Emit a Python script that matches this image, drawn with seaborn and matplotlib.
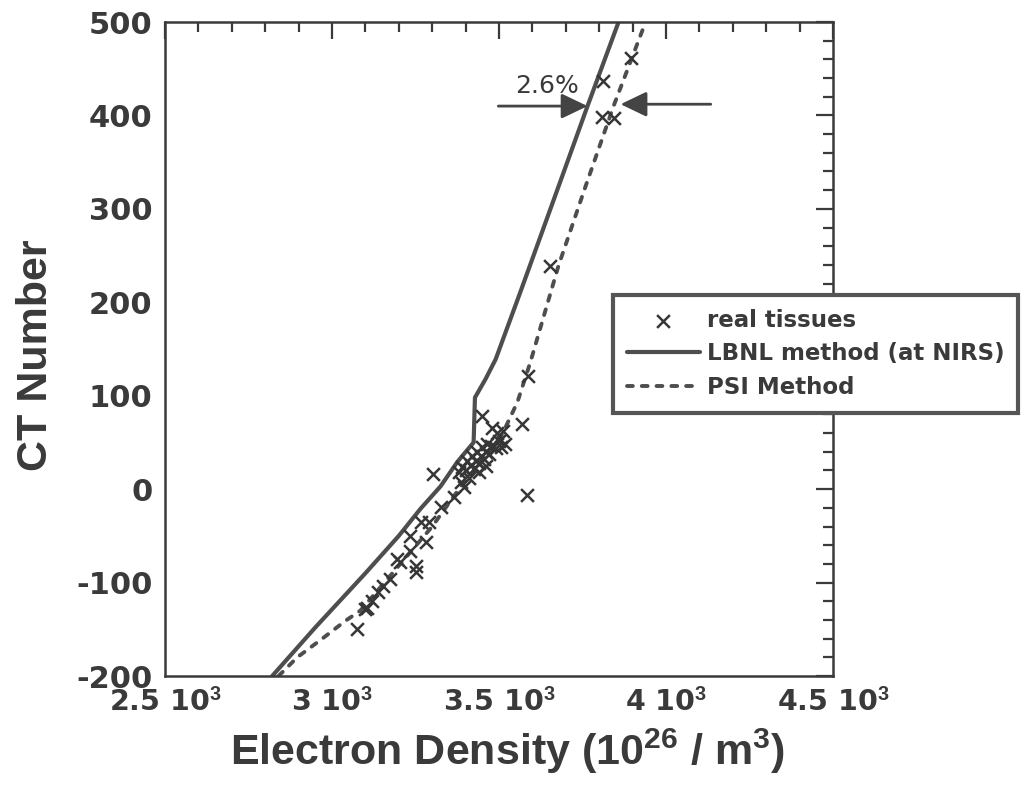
import matplotlib
matplotlib.use("Agg")
import matplotlib.pyplot as plt
from matplotlib import font_manager as fm
import seaborn as sns
import pandas as pd

# ---------------- data ----------------
tissue_density = [3894, 3810, 3808, 3843, 3654, 3588, 3570, 3585, 3450, 3302,
                  3480, 3495, 3513, 3505, 3490, 3500, 3518,
                  3380, 3390, 3400, 3405, 3415, 3420, 3425, 3430, 3435, 3440,
                  3445, 3450, 3455, 3460, 3465, 3470, 3440, 3410, 3475, 3460,
                  3394, 3386, 3364, 3325, 3289, 3265, 3280, 3235, 3235, 3250,
                  3250, 3205, 3196, 3175, 3154, 3139, 3121, 3106, 3100, 3076]
tissue_ct = [462, 437, 398, 397, 239, 121, 70, -6, 78, 16,
             65, 60, 62, 45, 44, 52, 48,
             18, 24, 20, 30, 26, 35, 22, 30, 40, 28,
             36, 45, 32, 40, 48, 38, 18, 12, 46, 25,
             2, 8, -8, -19, -35, -35, -57, -50, -66, -82,
             -89, -78, -75, -96, -104, -110, -120, -127, -128, -150]

lbnl_density = [2821, 2950, 3100, 3200, 3265, 3325, 3375, 3424, 3428, 3460,
                3490, 3564, 3650, 3765, 3858]
lbnl_ct = [-200, -148, -90, -50, -21, 3, 29, 50, 98, 118,
           139, 211, 296, 410, 500]

psi_density = [2840, 2896, 2971, 3040, 3085, 3200, 3300, 3390, 3470, 3510,
               3555, 3594, 3678, 3760, 3843, 3939]
psi_ct = [-200, -180, -160, -141, -130, -82, -40, 5, 40, 59,
          93, 136, 239, 325, 410, 500]

x_ticks = [2500, 3000, 3500, 4000, 4500]
x_tick_labels = [r"2.5 10$^{3}$", r"3 10$^{3}$", r"3.5 10$^{3}$",
                 r"4 10$^{3}$", r"4.5 10$^{3}$"]
y_ticks = [-200, -100, 0, 100, 200, 300, 400, 500]

# ---------------- style ----------------
sns.set_style("white")
names = {f.name for f in fm.fontManager.ttflist}
narrow = "Liberation Sans Narrow" in names
ylab_font = "Liberation Sans Narrow" if narrow else "Liberation Sans"
ylab_size = 38 if narrow else 31

ink = "#3a3a3a"
line_col = "#4e4e4e"
plt.rcParams["font.family"] = ["DejaVu Sans"]
plt.rcParams["axes.unicode_minus"] = False
plt.rcParams["mathtext.fontset"] = "custom"
plt.rcParams["mathtext.bf"] = "Liberation Sans:bold"
plt.rcParams["mathtext.rm"] = "Liberation Sans:bold"
plt.rcParams["mathtext.default"] = "bf"

fig = plt.figure(figsize=(10.24, 7.99), dpi=100)
ax = fig.add_axes([165 / 1024, 1 - 676 / 799, 668 / 1024, 654 / 799])

df_t = pd.DataFrame({"d": tissue_density, "ct": tissue_ct})
df_l = pd.DataFrame({"d": lbnl_density, "ct": lbnl_ct})
df_p = pd.DataFrame({"d": psi_density, "ct": psi_ct})

sns.lineplot(data=df_l, x="d", y="ct", ax=ax, color=line_col, lw=3.0,
             sort=False, estimator=None, label="LBNL method (at NIRS)",
             solid_capstyle="round", zorder=2)
sns.lineplot(data=df_p, x="d", y="ct", ax=ax, color=line_col, lw=2.8,
             sort=False, estimator=None, label="PSI Method",
             linestyle=(0, (1.5, 2.3)), dash_capstyle="round", zorder=2)
sns.scatterplot(data=df_t, x="d", y="ct", ax=ax, marker="x", s=85,
                color="#363636", linewidth=1.8, label="real tissues", zorder=3)

ax.set_xlim(2500, 4500)
ax.set_ylim(-200, 500)
ax.set_xticks(x_ticks)
ax.set_xticklabels(x_tick_labels)
ax.set_yticks(y_ticks)
ax.set_xticks(list(range(2500, 4501, 100)), minor=True)
ax.set_yticks(list(range(-200, 501, 20)), minor=True)

ax.tick_params(which="both", direction="in", top=True, right=True,
               color=ink, width=1.6)
ax.tick_params(which="major", length=12)
ax.tick_params(which="minor", length=7)
ax.tick_params(axis="y", which="major", pad=9, labelsize=22, labelcolor=ink)
ax.tick_params(axis="x", which="major", pad=9, labelsize=20.5, labelcolor=ink)
for lab in ax.get_xticklabels() + ax.get_yticklabels():
    lab.set_fontweight("bold")
    lab.set_family("DejaVu Sans")

for sp in ax.spines.values():
    sp.set_color(ink)
    sp.set_linewidth(1.8)

ax.set_xlabel(r"Electron Density (10$^{26}$ / m$^{3}$)", fontsize=31,
              fontweight="bold", family="Liberation Sans", color=ink, va="center")
ax.xaxis.set_label_coords(0.513, -0.115)
ax.set_ylabel("CT Number", fontsize=ylab_size, fontweight="bold",
              family=ylab_font, color=ink, va="center")
ax.yaxis.set_label_coords(-0.193, 0.491)

# arrows and annotation
arrow_kw = dict(arrowstyle="-|>,head_length=0.5,head_width=0.24",
                lw=2.0, color="#444444", shrinkA=0, shrinkB=0,
                mutation_scale=32)
ax.annotate("", xy=(3765, 410), xytext=(3498, 410), arrowprops=arrow_kw)
ax.annotate("", xy=(3864, 412), xytext=(4134, 412), arrowprops=arrow_kw)
ax.text(3645, 431, "2.6%", fontsize=18, color=ink, ha="center", va="center",
        family="DejaVu Sans")

# legend
h, l = ax.get_legend_handles_labels()
order = ["real tissues", "LBNL method (at NIRS)", "PSI Method"]
hh = [h[l.index(o)] for o in order]
leg = ax.legend(hh, order, loc="upper left",
                bbox_to_anchor=(613 / 1024, 1 - 295 / 799),
                bbox_transform=fig.transFigure, borderaxespad=0,
                prop={"family": "DejaVu Sans", "weight": "bold", "size": 16.5},
                handlelength=3.2, handletextpad=0.3, labelspacing=0.46,
                borderpad=0.6, frameon=True, fancybox=False, framealpha=1,
                edgecolor="#555555", labelcolor=ink)
leg.get_frame().set_linewidth(3.0)
leg.set_zorder(5)

fig.savefig("out.png", dpi=100)
